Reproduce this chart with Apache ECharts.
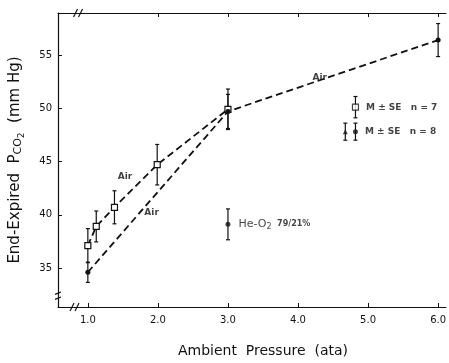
<!DOCTYPE html>
<html>
<head>
<meta charset="utf-8">
<script src="https://cdn.jsdelivr.net/npm/echarts@6/dist/echarts.min.js"></script>
<style>
  html, body { margin: 0; padding: 0; background: #fff; }
  #chart { width: 449px; height: 363px; }
</style>
</head>
<body>
<div id="chart"></div>
<script>
// Tick positions
const xTicks = [1, 2, 3, 4, 5, 6];
const yTicks = [35, 40, 45, 50, 55];

// Air, n = 7 (open squares): pressure, mean, SE
const airOpenX = [1.0, 1.12, 1.38, 1.99, 3.0];
const airOpenMean = [37.1, 38.9, 40.7, 44.7, 49.9];
const airOpenSE = [1.6, 1.45, 1.55, 1.9, 1.9];

// Air, n = 8 (filled circles)
const airFilledX = [1.0, 3.0, 6.0];
const airFilledMean = [34.6, 49.7, 56.4];
const airFilledSE = [0.95, 1.6, 1.55];

// He-O2 79/21% (filled circle)
const heO2X = [3.0];
const heO2Mean = [39.1];
const heO2SE = [1.45];

// In-plot annotations
const noteText = ['Air', 'Air', 'Air'];
const noteX = [1.53, 1.91, 4.31];
const noteY = [43.6, 40.2, 52.9];

// Key entries
const keySymbol = ['openSquare', 'triangle', 'circle'];
const keyX = [4.82, 4.675, 4.82];
const keyY = [50.1, 47.8, 47.8];
const keySE = [1.0, 0.8, 0.8];
const keyText = ['M ± SE   n = 7', '', 'M ± SE   n = 8'];

const ink = '#111';
const font = 'DejaVu Sans';

const pairs = (xs, ys) => xs.map((x, i) => [x, ys[i]]);
const bars = (xs, ys, se) => xs.map((x, i) => [x, ys[i] - se[i], ys[i] + se[i]]);

function errorBar(params, api) {
  const x = api.value(0);
  const lo = api.coord([x, api.value(1)]);
  const hi = api.coord([x, api.value(2)]);
  const c = 2;
  const st = { stroke: ink, lineWidth: 1.2 };
  return {
    type: 'group',
    children: [
      { type: 'line', shape: { x1: lo[0], y1: lo[1], x2: hi[0], y2: hi[1] }, style: st },
      { type: 'line', shape: { x1: lo[0] - c, y1: lo[1], x2: lo[0] + c, y2: lo[1] }, style: st },
      { type: 'line', shape: { x1: hi[0] - c, y1: hi[1], x2: hi[0] + c, y2: hi[1] }, style: st }
    ]
  };
}

const dashed = { color: ink, width: 1.8, type: [7, 4] };
const openSquareStyle = { color: '#fff', borderColor: ink, borderWidth: 1.2 };

const chart = echarts.init(document.getElementById('chart'), null, { renderer: 'canvas' });

const option = {
  animation: false,
  backgroundColor: '#fff',
  grid: { left: 54, right: 1, top: 13, bottom: 56 },
  xAxis: [
    {
      type: 'value', min: 0.574, max: 6.112, position: 'bottom',
      axisLine: { show: true, lineStyle: { color: ink, width: 1.2 } },
      axisTick: { show: true, inside: true, length: 4, customValues: xTicks, lineStyle: { color: ink } },
      axisLabel: {
        customValues: xTicks, color: ink, fontFamily: font, fontSize: 10, margin: 8,
        formatter: v => v.toFixed(1)
      },
      splitLine: { show: false },
      name: 'Ambient  Pressure  (ata)', nameLocation: 'middle', nameGap: 37,
      nameTextStyle: { color: ink, fontFamily: font, fontSize: 14, padding: [0, 0, 0, 22] }
    },
    {
      type: 'value', min: 0.574, max: 6.112, position: 'top',
      axisLine: { show: true, lineStyle: { color: ink, width: 1.2 } },
      axisTick: { show: true, inside: true, length: 4, customValues: [2, 3, 4, 5, 6], lineStyle: { color: ink } },
      axisLabel: { show: false },
      splitLine: { show: false }
    }
  ],
  yAxis: {
    type: 'value', min: 31.34, max: 58.94,
    axisLine: { show: true, lineStyle: { color: ink, width: 1.2 } },
    axisTick: { show: true, inside: true, length: 4, customValues: yTicks, lineStyle: { color: ink } },
    axisLabel: { customValues: yTicks, color: ink, fontFamily: font, fontSize: 10, margin: 6 },
    splitLine: { show: false },
    name: '{t|End-Expired  P}{s|CO}{ss|2}{t|  (mm Hg)}',
    nameLocation: 'middle', nameGap: 32, nameRotate: 90,
    nameTextStyle: {
      rich: {
        t: { fontFamily: font, fontSize: 15, color: ink },
        s: { fontFamily: font, fontSize: 11, color: ink, padding: [6, 0, 0, 0] },
        ss: { fontFamily: font, fontSize: 9, color: ink, padding: [12, 0, 0, 0] }
      }
    }
  },
  series: [
    {
      name: 'Air n=7', type: 'line', data: pairs(airOpenX, airOpenMean),
      lineStyle: dashed, symbol: 'rect', symbolSize: 6,
      itemStyle: openSquareStyle, z: 5
    },
    {
      name: 'Air n=8', type: 'line', data: pairs(airFilledX, airFilledMean),
      lineStyle: dashed, symbol: 'circle', symbolSize: 5,
      itemStyle: { color: ink }, z: 6
    },
    {
      name: 'He-O2', type: 'scatter', data: pairs(heO2X, heO2Mean),
      symbol: 'circle', symbolSize: 5, itemStyle: { color: ink }, z: 6,
      label: {
        show: true, position: 'right', distance: 8,
        formatter: '{a|He-O}{b|2}{c|  79/21%}',
        rich: {
          a: { fontFamily: font, fontSize: 11, color: ink },
          b: { fontFamily: font, fontSize: 8, color: ink, padding: [5, 0, 0, 0] },
          c: { fontFamily: font, fontSize: 8, color: ink, fontWeight: 'bold' }
        }
      }
    },
    {
      type: 'custom', renderItem: errorBar, z: 4,
      data: bars(airOpenX, airOpenMean, airOpenSE)
        .concat(bars(airFilledX, airFilledMean, airFilledSE))
        .concat(bars(heO2X, heO2Mean, heO2SE))
        .concat(bars(keyX, keyY, keySE))
    },
    {
      type: 'scatter', symbolSize: 0,
      data: noteText.map((t, i) => ({ name: t, value: [noteX[i], noteY[i]] })),
      label: {
        show: true, position: 'inside', formatter: p => p.name,
        fontFamily: font, fontSize: 9, fontWeight: 'bold', color: ink
      }
    },
    {
      type: 'scatter', z: 6,
      data: keyText.map((t, i) => {
        const open = keySymbol[i] === 'openSquare';
        return {
          name: t, value: [keyX[i], keyY[i]],
          symbol: open ? 'rect' : keySymbol[i],
          symbolSize: open ? 6 : 5,
          itemStyle: open ? openSquareStyle : { color: ink }
        };
      }),
      label: {
        show: true, position: 'right', distance: 7, formatter: p => p.name,
        fontFamily: font, fontSize: 9, fontWeight: 'bold', color: ink
      }
    }
  ]
};

chart.setOption(option);

// Axis break marks ("//") on the frame
function breakMark(px, py, vertical) {
  const s = { stroke: ink, lineWidth: 1.2 };
  const g = 2.5, h = 4;
  const gap = vertical
    ? { type: 'rect', shape: { x: px - 3, y: py - g, width: 6, height: 2 * g }, style: { fill: '#fff' } }
    : { type: 'rect', shape: { x: px - g, y: py - 3, width: 2 * g, height: 6 }, style: { fill: '#fff' } };
  const lines = vertical
    ? [
        { type: 'line', shape: { x1: px - 3, y1: py - g + h * 0.3, x2: px + 3, y2: py - g - h * 0.3 }, style: s },
        { type: 'line', shape: { x1: px - 3, y1: py + g + h * 0.3, x2: px + 3, y2: py + g - h * 0.3 }, style: s }
      ]
    : [
        { type: 'line', shape: { x1: px - g - 2, y1: py + h, x2: px - g + 2, y2: py - h }, style: s },
        { type: 'line', shape: { x1: px + g - 2, y1: py + h, x2: px + g + 2, y2: py - h }, style: s }
      ];
  return { type: 'group', children: [gap].concat(lines), z: 100 };
}

const topMark = chart.convertToPixel({ gridIndex: 0 }, [0.86, 58.94]);
const bottomMark = chart.convertToPixel({ gridIndex: 0 }, [0.81, 31.34]);
const leftMark = chart.convertToPixel({ gridIndex: 0 }, [0.574, 32.4]);

chart.setOption({
  graphic: [
    breakMark(topMark[0], topMark[1], false),
    breakMark(bottomMark[0], bottomMark[1], false),
    breakMark(leftMark[0], leftMark[1], true)
  ]
});
</script>
</body>
</html>
